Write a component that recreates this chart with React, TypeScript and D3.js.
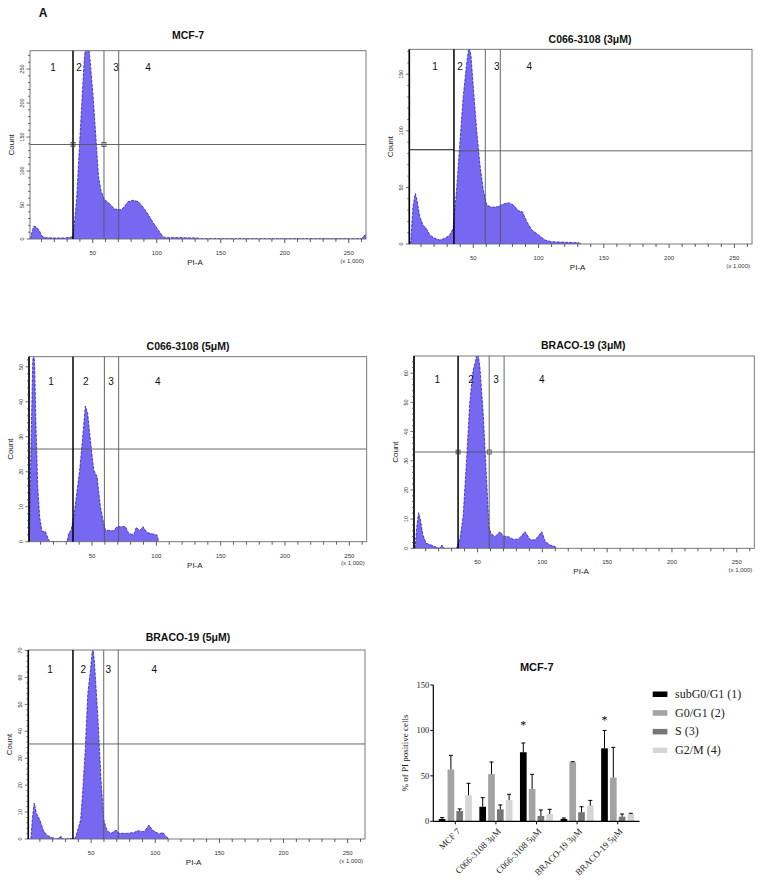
import React from "react";
import * as d3 from "d3";

// ---------- Histogram data (PI-A x1000, Count) ----------
const histMCF7: [number, number][] = [
  [1.3, 0], [2.5, 10], [4, 18.6], [5.5, 18], [7.9, 13.7], [10.5, 3.9], [13, 2], [20, 1.5], [28, 1.5], [33, 2.5],
  [34.5, 4], [35.5, 18.6], [37.4, 58], [39.5, 131], [41.6, 205], [43.4, 264], [44.2, 280], [45.2, 295], [46.5, 290],
  [48, 262], [50.5, 205], [52.6, 146], [54.5, 92], [56.6, 70], [59.2, 58], [63.2, 52], [67, 44], [72.4, 43], [75, 48],
  [77.6, 55], [81.6, 57], [85.5, 55], [88, 50], [90.8, 43], [93.4, 36], [97.4, 23.5], [101, 13.7], [105, 3], [108, 2],
  [118, 2], [131.6, 1.5], [134, 0.5], [150, 0.5], [260, 0.5], [262, 5], [263.5, 6],
];
const histC066_3: [number, number][] = [
  [2, 0], [3.8, 33], [5.6, 44.7], [6.9, 38.8], [9, 24], [11.5, 16.8], [14, 13.8], [16.7, 8], [20.5, 5], [24.4, 3.5],
  [28.2, 5], [32, 8], [34.6, 13.8], [37.2, 47.6], [39.7, 88.8], [42.3, 130], [44.9, 159], [46.7, 175], [48.2, 167],
  [50, 139], [52.6, 100.6], [55, 71], [57.7, 47.6], [60.3, 34.4], [64, 32.4], [69, 33], [73, 35.3], [77, 36.5],
  [80.8, 34.4], [84.6, 29.4], [87.7, 28.5], [91, 19.7], [94.9, 12.4], [100, 8], [105, 3.5], [110, 2], [120.5, 1.5],
  [130.8, 1], [133, 0],
];
const histC066_5: [number, number][] = [
  [1.3, 0], [1.8, 12.9], [2.8, 32], [3.9, 51.4], [4.7, 55], [5.4, 50], [6.5, 32], [7.8, 15.7], [9.3, 7], [11.1, 2.9],
  [13.7, 2.9], [16.3, 0.5], [17.6, 0], [30.6, 0], [31.9, 2.4], [33.7, 3.3], [35.8, 7.1], [37.8, 12.9], [40.4, 20.5],
  [43, 31], [44.8, 38.8], [46.6, 36.7], [48.7, 29], [51.3, 20.5], [53.9, 18.6], [56.5, 10], [58.5, 6.2], [60.4, 3.3],
  [66.8, 3.1], [69.4, 4.3], [75.9, 4.3], [78.5, 2.4], [82.4, 1.9], [84.4, 4.1], [87, 3.1], [89.6, 4.3], [92.7, 2.6],
  [100.5, 1.9], [101.8, 0],
];
const histBRACO_3: [number, number][] = [
  [1.9, 0], [2.9, 6.3], [4.5, 12.2], [6, 9.7], [7.8, 4.6], [10.4, 1.7], [14.3, 1.1], [16.9, 0.6], [20.8, 0], [22.6, 1.1],
  [24.1, 0], [33.7, 0], [36.3, 2.9], [38.9, 10.8], [41.4, 29], [44, 49.7], [46.6, 61], [48.4, 64], [50, 68],
  [51.8, 62.2], [54.4, 46], [57, 23.4], [58.8, 7.4], [60.3, 5.1], [63.4, 4], [67.3, 5.7], [69.9, 4.2], [73.7, 4],
  [77.6, 3.1], [81.5, 3.1], [86.7, 5.7], [90.6, 2.9], [94.5, 2.9], [99.6, 5.7], [102.2, 2.3], [106, 1.1], [109.9, 0.6],
  [110.5, 0],
];
const histBRACO_5: [number, number][] = [
  [3, 0], [4.3, 8.3], [5.6, 13.3], [7.4, 9.5], [10, 7.1], [12.6, 3.3], [15.2, 1.5], [19, 0.6], [22.9, 0], [26.8, 0.9],
  [28, 0], [37.6, 0.3], [39.2, 2.7], [41.8, 7.1], [43.5, 18.2], [45.4, 33], [47.4, 54], [49.5, 62.8], [51.3, 72],
  [52.6, 65.3], [55.2, 45.5], [57.7, 21.9], [59.8, 7.1], [62.4, 3.1], [65.5, 2.1], [69.4, 3.3], [71.9, 2.1],
  [78.4, 2.1], [83.5, 2.4], [86.1, 3.1], [91.3, 2.7], [95.1, 5.2], [97.7, 3.3], [102.9, 1.9], [106, 2.4], [108, 1.1],
  [110.6, 0],
];

const histTitles = ["MCF-7", "C066-3108 (3\u03bcM)", "C066-3108 (5\u03bcM)", "BRACO-19 (3\u03bcM)", "BRACO-19 (5\u03bcM)"];
const histYMax = [277, 172, 52.9, 65.9, 70.2];
const histYStep = [50, 50, 10, 10, 10];
const histYMinor = [10, 10, 2, 2, 2];
const histGates: number[][] = [
  [34.6, 58.8, 70.3],
  [35.2, 59.2, 70.7],
  [35.2, 59.6, 70.7],
  [35, 59, 70.5],
  [35.8, 59.8, 71.1],
];
const histHGate = [139, 82.3, 26.5, 33, 35.3];
const xTickLabels = [50, 100, 150, 200, 250];
const regionLabels = ["1", "2", "3", "4"];
const X_DOMAIN: [number, number] = [1, 263.5];

// ---------- Bar chart data ----------
const categories = ["MCF 7", "C066-3108 3\u03bcM", "C066-3108 5\u03bcM", "BRACO-19 3\u03bcM", "BRACO-19 5\u03bcM"];
const seriesNames = ["subG0/G1 (1)", "G0/G1 (2)", "S (3)", "G2/M (4)"];
const subG0G1 = [2.6, 16, 76, 2.6, 80.3];
const subG0G1Err = [1.5, 10, 10.2, 1.1, 19.7];
const G0G1 = [57, 52, 35.6, 65, 48];
const G0G1Err = [15.6, 13.3, 16.1, 0.6, 33.4];
const Sphase = [11.4, 13.2, 5.9, 10, 5.1];
const SphaseErr = [2.2, 4.8, 6.6, 6, 2.9];
const G2M = [28.6, 23.5, 8, 17.2, 8];
const G2MErr = [13.2, 6.2, 5.2, 5.8, 0.8];
const significant = [false, false, true, false, true];
const barYTicks = [0, 50, 100, 150];

// ---------- Layout ----------
const panels = [
  { left: 30, right: 366, top: 50.7, bottom: 239, tx: 188, ty: 38.5, lx: [53, 79, 116, 148], ly: 70.5, thickLeft: false, markers: true, hLeft: null as number | null },
  { left: 409.3, right: 752, top: 49.3, bottom: 244, tx: 590, ty: 42.5, lx: [435, 460, 496.7, 529.3], ly: 70, thickLeft: true, markers: false, hLeft: 83.2 },
  { left: 29, right: 366.7, top: 356.7, bottom: 541.7, tx: 188, ty: 350, lx: [51, 85.7, 111, 157.7], ly: 385, thickLeft: true, markers: false, hLeft: null },
  { left: 414, right: 754.3, top: 356, bottom: 548.3, tx: 583.3, ty: 349, lx: [437.3, 471, 496, 541.7], ly: 383, thickLeft: true, markers: true, hLeft: null },
  { left: 28.3, right: 365, top: 650, bottom: 839, tx: 188, ty: 641, lx: [50, 83.3, 108.3, 154.3], ly: 673, thickLeft: true, markers: false, hLeft: null },
];
const histData = [histMCF7, histC066_3, histC066_5, histBRACO_3, histBRACO_5];

const SANS = "Liberation Sans, Arial, sans-serif";
const SERIF = "Liberation Serif, Times New Roman, serif";

function Histogram({ idx }: { idx: number }) {
  const p = panels[idx];
  const data = histData[idx];
  const x = d3.scaleLinear().domain(X_DOMAIN).range([p.left, p.right]);
  const y = d3.scaleLinear().domain([0, histYMax[idx]]).range([p.bottom, p.top]);
  const area = d3
    .area<[number, number]>()
    .x((d) => x(d[0]))
    .y0(y(0))
    .y1((d) => y(d[1]));
  const line = d3
    .line<[number, number]>()
    .x((d) => x(d[0]))
    .y((d) => y(d[1]));
  const clipId = `clip-h${idx}`;
  const minorX = d3.range(10, 261, 10);
  const yMaj = d3.range(0, histYMax[idx] + 0.01, histYStep[idx]);
  const yMin = d3.range(0, histYMax[idx] + 0.01, histYMinor[idx]);
  const gates = histGates[idx];
  const hy = y(histHGate[idx]);
  return (
    <g>
      <defs>
        <clipPath id={clipId}>
          <rect x={p.left} y={p.top} width={p.right - p.left} height={p.bottom - p.top} />
        </clipPath>
      </defs>
      <text x={p.tx} y={p.ty} textAnchor="middle" fontFamily={SANS} fontWeight="bold" fontSize={10.5} fill="#111">
        {histTitles[idx]}
      </text>
      <g clipPath={`url(#${clipId})`}>
        <path d={area(data) || ""} fill="#7768f2" />
        <path d={line(data) || ""} fill="none" stroke="#2c1fc4" strokeWidth={0.8} strokeDasharray="3,1.2" />
      </g>
      <rect x={p.left} y={p.top} width={p.right - p.left} height={p.bottom - p.top} fill="none" stroke="#6a6a6a" strokeWidth={0.9} />
      {p.thickLeft && <line x1={p.left} x2={p.left} y1={p.top} y2={p.bottom} stroke="#000" strokeWidth={1.6} />}
      {/* gates */}
      <line x1={p.hLeft != null ? x(gates[0]) : p.left} x2={p.right} y1={hy} y2={hy} stroke="#555" strokeWidth={0.9} />
      {p.hLeft != null && (
        <line x1={p.left} x2={x(gates[0])} y1={y(p.hLeft)} y2={y(p.hLeft)} stroke="#111" strokeWidth={1.1} />
      )}
      <line x1={x(gates[0])} x2={x(gates[0])} y1={p.top} y2={p.bottom} stroke="#000" strokeWidth={1.5} />
      <line x1={x(gates[1])} x2={x(gates[1])} y1={p.top} y2={p.bottom} stroke="#555" strokeWidth={0.9} />
      <line x1={x(gates[2])} x2={x(gates[2])} y1={p.top} y2={p.bottom} stroke="#555" strokeWidth={0.9} />
      {p.markers &&
        [gates[0], gates[1]].map((g, i) => (
          <rect key={i} x={x(g) - 2} y={hy - 2} width={4} height={4} fill="none" stroke="#444" strokeWidth={0.8} />
        ))}
      {regionLabels.map((t, i) => (
        <text key={t} x={p.lx[i]} y={p.ly} textAnchor="middle" fontFamily={SANS} fontSize={10} fill="#111">
          {t}
        </text>
      ))}
      {/* x ticks */}
      {minorX.map((v) => (
        <line key={v} x1={x(v)} x2={x(v)} y1={p.bottom} y2={p.bottom + (v % 50 === 0 ? 4 : 3)} stroke="#333" strokeWidth={0.8} />
      ))}
      {xTickLabels.map((v) => (
        <text key={v} x={x(v)} y={p.bottom + 16} textAnchor="middle" fontFamily={SANS} fontSize={6} fill="#333">
          {v}
        </text>
      ))}
      <text x={p.right - 2} y={p.bottom + 23.5} textAnchor="end" fontFamily={SANS} fontSize={6} fill="#333">
        (x 1,000)
      </text>
      <text x={(p.left + p.right) / 2 - 3} y={p.bottom + 26} textAnchor="middle" fontFamily={SANS} fontSize={8} fill="#222">
        PI-A
      </text>
      {/* y ticks */}
      {yMin.map((v) => (
        <line key={v} x1={p.left} x2={p.left - (Math.abs(v % histYStep[idx]) < 1e-6 ? 3.5 : 2)} y1={y(v)} y2={y(v)} stroke="#333" strokeWidth={0.7} />
      ))}
      {yMaj.map((v) => (
        <text key={v} transform={`translate(${p.left - 6},${y(v)}) rotate(-90)`} textAnchor="middle" fontFamily={SANS} fontSize={5.5} fill="#333">
          {v}
        </text>
      ))}
      <text transform={`translate(${p.left - 16},${(p.top + p.bottom) / 2}) rotate(-90)`} textAnchor="middle" fontFamily={SANS} fontSize={8} fill="#222">
        Count
      </text>
    </g>
  );
}

function BarChart() {
  const values = [subG0G1, G0G1, Sphase, G2M];
  const errs = [subG0G1Err, G0G1Err, SphaseErr, G2MErr];
  const colors = ["#000000", "#a3a3a3", "#767676", "#d5d5d5"];
  const axisLeft = 433.3;
  const axisRight = 639.5;
  const y = d3.scaleLinear().domain([0, 150]).range([821.3, 685]);
  const x0 = d3.scaleBand<string>().domain(categories).range([435, 638]);
  const x1 = d3.scaleBand<string>().domain(seriesNames).range([0, 33.1]).paddingInner(0.24);
  return (
    <g>
      <text x={536.7} y={670.5} textAnchor="middle" fontFamily={SANS} fontWeight="bold" fontSize={11} fill="#111">
        MCF-7
      </text>
      {categories.map((c, ci) => {
        const cx = (x0(c) || 0) + x0.bandwidth() / 2;
        const gx = cx - 16.55;
        return (
          <g key={c}>
            {seriesNames.map((s, si) => {
              const v = values[si][ci];
              const e = errs[si][ci];
              const bx = gx + (x1(s) || 0);
              const bw = x1.bandwidth();
              const mx = bx + bw / 2;
              return (
                <g key={s}>
                  <rect x={bx} y={y(v)} width={bw} height={y(0) - y(v)} fill={colors[si]} />
                  <line x1={mx} x2={mx} y1={y(v)} y2={y(v + e)} stroke="#000" strokeWidth={1} />
                  <line x1={mx - 2} x2={mx + 2} y1={y(v + e)} y2={y(v + e)} stroke="#000" strokeWidth={1} />
                </g>
              );
            })}
            {significant[ci] && (
              <text x={gx + (x1(seriesNames[0]) || 0) + x1.bandwidth() / 2} y={ci === 2 ? 729 : 724} textAnchor="middle" fontFamily={SERIF} fontSize={12} fill="#000">
                *
              </text>
            )}
            <line x1={cx} x2={cx} y1={y(0)} y2={y(0) + 3} stroke="#000" strokeWidth={1} />
            <text transform={`translate(${cx + 1},${y(0) + 6}) rotate(-45)`} textAnchor="end" dominantBaseline="hanging" fontFamily={SERIF} fontSize={9} fill="#222">
              {c}
            </text>
          </g>
        );
      })}
      <line x1={axisLeft} x2={axisRight} y1={y(0)} y2={y(0)} stroke="#000" strokeWidth={1.2} />
      <line x1={axisLeft} x2={axisLeft} y1={y(0)} y2={y(150)} stroke="#000" strokeWidth={1.2} />
      {barYTicks.map((t) => (
        <g key={t}>
          <line x1={axisLeft - 3} x2={axisLeft} y1={y(t)} y2={y(t)} stroke="#000" strokeWidth={1} />
          <text x={axisLeft - 4} y={y(t) + 3} textAnchor="end" fontFamily={SERIF} fontSize={8.5} fill="#222">
            {t}
          </text>
        </g>
      ))}
      <text transform={`translate(408,753) rotate(-90)`} textAnchor="middle" fontFamily={SERIF} fontSize={9} fill="#222">
        % of PI positive cells
      </text>
      {seriesNames.map((s, si) => (
        <g key={s}>
          <rect x={652.7} y={691.5 + si * 18.7} width={14.7} height={5.5} fill={colors[si]} />
          <text x={675} y={698 + si * 18.7} fontFamily={SERIF} fontSize={12} fill="#222">
            {s}
          </text>
        </g>
      ))}
    </g>
  );
}

export default function App() {
  return (
    <svg width={765} height={886} style={{ position: "absolute", left: 0, top: 0, background: "#fff" }}>
      <rect width={765} height={886} fill="#fff" />
      <text x={43} y={17} textAnchor="middle" fontFamily={SANS} fontWeight="bold" fontSize={12} fill="#111">
        A
      </text>
      {panels.map((_, i) => (
        <Histogram key={i} idx={i} />
      ))}
      <BarChart />
    </svg>
  );
}
